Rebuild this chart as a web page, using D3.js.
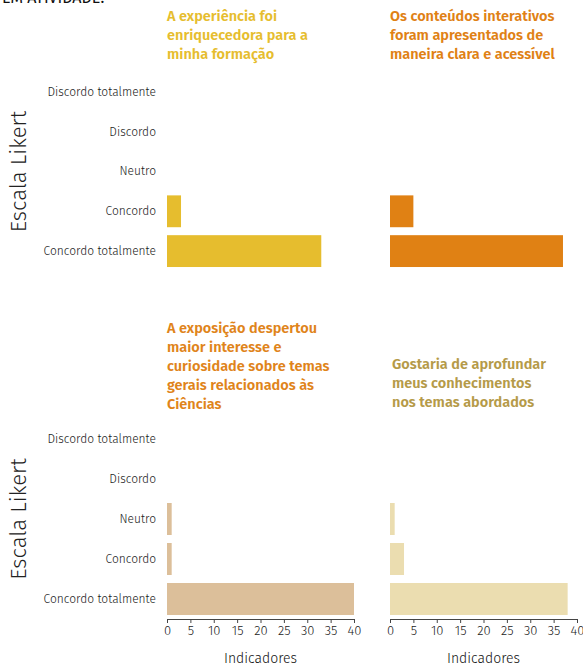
<!DOCTYPE html>
<html>
<head>
<meta charset="utf-8">
<script src="https://cdn.jsdelivr.net/npm/d3@7"></script>
<style>
  body { margin: 0; background: #fff; }
  text { font-family: "Fira Sans", Roboto, "Open Sans", sans-serif; }
</style>
</head>
<body>
<svg id="chart" width="583" height="666"></svg>
<script>
/* data */
const likert = ["Discordo totalmente", "Discordo", "Neutro", "Concordo", "Concordo totalmente"];

const q1 = [0, 0, 0, 3, 33];
const q2 = [0, 0, 0, 5, 37];
const q3 = [0, 0, 1, 1, 40];
const q4 = [0, 0, 1, 3, 38];

const titles = [
    ["A experiência foi", "enriquecedora para a", "minha formação"],
    ["Os conteúdos interativos", "foram apresentados de", "maneira clara e acessível"],
    ["A exposição despertou", "maior interesse e", "curiosidade sobre temas", "gerais relacionados às", "Ciências"],
    ["Gostaria de aprofundar", "meus conhecimentos", "nos temas abordados"]
];

const xTicks = [0, 5, 10, 15, 20, 25, 30, 35, 40];

const barColors = ["#e6bd2e", "#e08114", "#dcbf9a", "#ebddb0"];
const titleColors = ["#e6bd2e", "#e08114", "#e0841a", "#b59a48"];

const svg = d3.select("#chart");

/* cut off heading at the top */
svg.append("text")
    .attr("x", 2)
    .attr("y", 3)
    .style("font-size", "16px")
    .style("fill", "#111")
    .text("EM ATIVIDADE.");

/* one panel per question */
const panels = [
    { data: q1, xr: [167, 354], yr: [72, 271], yLabels: true, xAxis: false, tx: 167, ty: 21 },
    { data: q2, xr: [390, 577], yr: [72, 271], yLabels: false, xAxis: false, tx: 390, ty: 21 },
    { data: q3, xr: [167, 354], yr: [419, 619], yLabels: true, xAxis: true, tx: 167, ty: 333 },
    { data: q4, xr: [390, 577], yr: [419, 619], yLabels: false, xAxis: true, tx: 392, ty: 369 }
];

panels.forEach((p, k) => {
    var x = d3.scaleLinear()
        .domain([0, 40])
        .range(p.xr);

    var y = d3.scaleBand()
        .domain(likert)
        .range(p.yr)
        .paddingInner(0.2)
        .paddingOuter(0.1);

    const g = svg.append("g").attr("class", "panel" + k);

    /* bars */
    g.selectAll(".bar")
        .data(likert.map((d, i) => ({ cat: d, val: p.data[i] })))
        .enter()
        .append("rect")
        .attr("class", "bar")
        .attr("x", x(0))
        .attr("y", d => y(d.cat))
        .attr("width", d => x(d.val) - x(0))
        .attr("height", y.bandwidth())
        .style("fill", barColors[k]);

    /* category labels */
    if (p.yLabels) {
        var yAxis = d3.axisLeft(y).tickSize(0).tickPadding(0);
        g.append("g")
            .attr("transform", "translate(" + (p.xr[0] - 11) + ",0)")
            .call(yAxis)
            .call(a => a.select(".domain").remove())
            .call(a => a.selectAll("text")
                .style("font-family", "'Fira Sans', Roboto, sans-serif")
                .style("font-size", "12px")
                .style("font-weight", "300")
                .style("fill", "#222"));

        svg.append("text")
            .attr("transform", "translate(26," + ((p.yr[0] + p.yr[1]) / 2) + ") rotate(-90)")
            .attr("text-anchor", "middle")
            .style("font-size", "22px")
            .style("font-weight", "300")
            .style("fill", "#222")
            .text("Escala Likert");
    }

    /* x axis */
    if (p.xAxis) {
        var xAxis = d3.axisBottom(x)
            .tickValues(xTicks)
            .tickSize(4)
            .tickSizeOuter(4)
            .tickPadding(3);
        g.append("g")
            .attr("transform", "translate(0," + p.yr[1] + ")")
            .call(xAxis)
            .call(a => a.selectAll("path, line").style("stroke", "#444"))
            .call(a => a.selectAll("text")
                .style("font-family", "'Fira Sans', Roboto, sans-serif")
                .style("font-size", "13px")
                .style("font-weight", "300")
                .style("fill", "#222"));

        svg.append("text")
            .attr("x", (p.xr[0] + p.xr[1]) / 2)
            .attr("y", 663)
            .attr("text-anchor", "middle")
            .style("font-size", "14px")
            .style("font-weight", "300")
            .style("fill", "#111")
            .text("Indicadores");
    }

    /* title */
    titles[k].forEach((line, i) => {
        svg.append("text")
            .attr("x", p.tx)
            .attr("y", p.ty + i * 19)
            .style("font-size", "14.5px")
            .style("font-weight", "600")
            .style("fill", titleColors[k])
            .text(line);
    });
});
</script>
</body>
</html>
